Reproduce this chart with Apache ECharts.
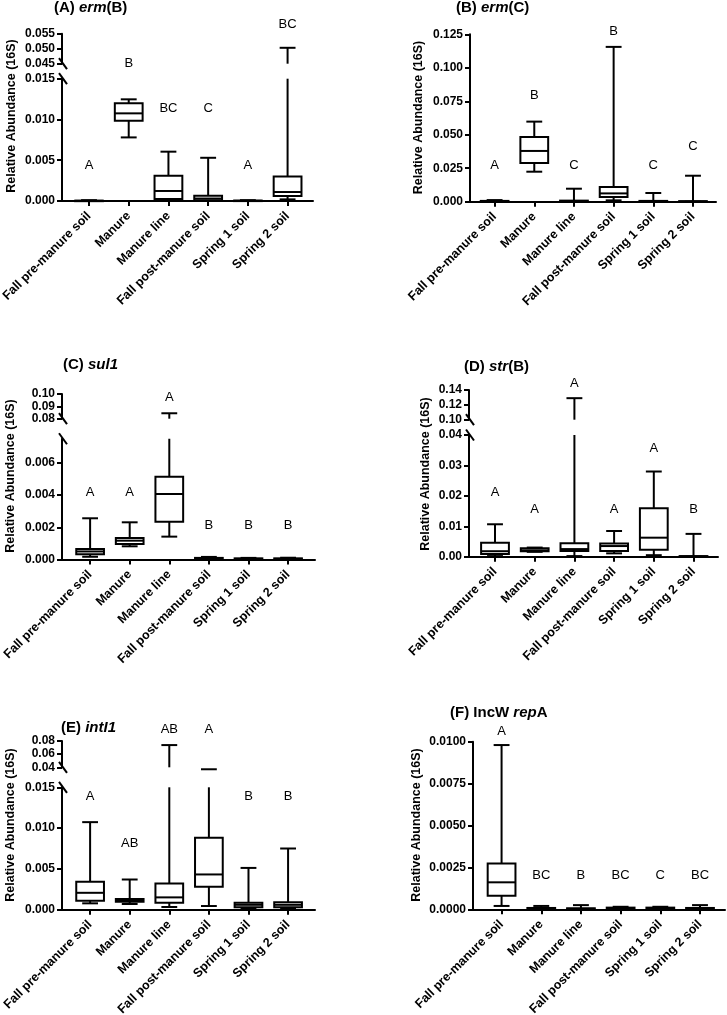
<!DOCTYPE html>
<html><head><meta charset="utf-8">
<script src="https://cdn.jsdelivr.net/npm/echarts@6/dist/echarts.min.js"></script>
<style>html,body{margin:0;padding:0;background:#fff}#chart{width:727px;height:1015px}</style>
</head><body><div id="chart"></div>
<script>
// ---------------- DATA ----------------
const categories = ['Fall pre-manure soil', 'Manure', 'Manure line', 'Fall post-manure soil', 'Spring 1 soil', 'Spring 2 soil'];

// each box: [min, Q1, median, Q3, max]
// (A) erm(B)
const ermB = [
  [0, 0.00001, 0.00002, 0.00004, 0.0001],
  [0.0078, 0.00985, 0.01075, 0.0120, 0.01247],
  [0.00005, 0.00025, 0.00123, 0.0031, 0.00605],
  [0.00001, 0.0001, 0.0003, 0.00065, 0.0053],
  [0, 0.00001, 0.00002, 0.00005, 0.0001],
  [0.0002, 0.0006, 0.0011, 0.0030, 0.0503]
];
const ermBLetters = ['A', 'B', 'BC', 'C', 'A', 'BC'];
const ermBLetterY = [0.0044, 0.0169, 0.0114, 0.0114, 0.0044, 0.0217];
const ermBTicksLow = [0, 0.005, 0.010, 0.015];
const ermBTicksHigh = [0.045, 0.050, 0.055];

// (B) erm(C)
const ermC = [
  [0, 0.0001, 0.0003, 0.0006, 0.0012],
  [0.0224, 0.0289, 0.0379, 0.0483, 0.0598],
  [0, 0.0001, 0.0003, 0.0008, 0.0097],
  [0.001, 0.0035, 0.0062, 0.011, 0.1156],
  [0, 0.0001, 0.0002, 0.0006, 0.0065],
  [0, 0.00005, 0.0001, 0.0004, 0.0194]
];
const ermCLetters = ['A', 'B', 'C', 'B', 'C', 'C'];
const ermCLetterY = [0.027, 0.079, 0.027, 0.1275, 0.027, 0.041];
const ermCTicks = [0, 0.025, 0.050, 0.075, 0.100, 0.125];

// (C) sul1
const sul1 = [
  [0.00017, 0.00032, 0.0005, 0.00065, 0.00256],
  [0.00082, 0.00096, 0.00117, 0.00134, 0.00231],
  [0.00142, 0.00235, 0.00407, 0.00514, 0.0844],
  [0.00001, 0.00003, 0.00006, 0.0001, 0.00016],
  [0, 0.00002, 0.00004, 0.00007, 0.0001],
  [0, 0.00002, 0.00004, 0.00007, 0.00011]
];
const sul1Letters = ['A', 'A', 'A', 'B', 'B', 'B'];
const sul1LetterY = [0.00415, 0.00415, 0.01005, 0.00214, 0.00214, 0.00214];
const sul1TicksLow = [0, 0.002, 0.004, 0.006];
const sul1TicksHigh = [0.08, 0.09, 0.10];

// (D) str(B)
const strB = [
  [0.0002, 0.0009, 0.0018, 0.0046, 0.01066],
  [0.0016, 0.0018, 0.0021, 0.0028, 0.0030],
  [0.0002, 0.0019, 0.0025, 0.0044, 0.129],
  [0.0011, 0.0019, 0.0035, 0.0043, 0.00845],
  [0.0005, 0.0023, 0.00625, 0.0159, 0.028],
  [0, 0, 0.00005, 0.0002, 0.0075]
];
const strBLetters = ['A', 'A', 'A', 'A', 'A', 'B'];
const strBLetterY = [0.0210, 0.0154, 0.0570, 0.0154, 0.0357, 0.0154];
const strBTicksLow = [0, 0.01, 0.02, 0.03, 0.04];
const strBTicksHigh = [0.10, 0.12, 0.14];

// (E) intI1
const intI1 = [
  [0.00078, 0.0011, 0.00207, 0.00341, 0.01073],
  [0.0007, 0.00098, 0.0011, 0.0013, 0.0037],
  [0.00033, 0.00085, 0.00151, 0.0032, 0.0738],
  [0.00045, 0.0028, 0.00432, 0.00883, 0.037],
  [0.0001, 0.0003, 0.0006, 0.00085, 0.00512],
  [0.0001, 0.0003, 0.0006, 0.0009, 0.0075]
];
const intI1Letters = ['A', 'AB', 'AB', 'A', 'B', 'B'];
const intI1LetterY = [0.01385, 0.00814, 0.0221, 0.0221, 0.01385, 0.01385];
const intI1TicksLow = [0, 0.005, 0.010, 0.015];
const intI1TicksHigh = [0.04, 0.06, 0.08];

// (F) IncW repA
const repA = [
  [0.0002, 0.00081, 0.00161, 0.00274, 0.0098],
  [0, 0.00002, 0.00004, 0.00008, 0.0002],
  [0, 0.00001, 0.00003, 0.00006, 0.00025],
  [0, 0.00002, 0.00005, 0.0001, 0.00015],
  [0, 0.00003, 0.00006, 0.0001, 0.00015],
  [0, 0.00002, 0.00004, 0.00008, 0.00025]
];
const repALetters = ['A', 'BC', 'B', 'BC', 'C', 'BC'];
const repALetterY = [0.0106, 0.00205, 0.00205, 0.00205, 0.00205, 0.00205];
const repATicks = [0, 0.0025, 0.0050, 0.0075, 0.0100];

const yTitle = 'Relative Abundance (16S)';

// ---------------- LAYOUT ----------------
const FONT = '"Liberation Sans", Arial, Helvetica, sans-serif';
const panels = [
  { title: '(A) {i|erm}(B)', titlePos: [54, 0], yName: [12, 116], boxes: ermB, letters: ermBLetters, letterY: ermBLetterY,
    left: 62, width: 251, xMin: -0.68, xMax: 5.64,
    low: { top: 78.7, height: 122.3, min: 0, max: 0.015, ticks: ermBTicksLow, dec: 3 },
    high: { top: 33.7, height: 30, min: 0.045, max: 0.055, ticks: ermBTicksHigh, dec: 3 } },
  { title: '(B) {i|erm}(C)', titlePos: [456, 0], yName: [419, 117.5], boxes: ermC, letters: ermCLetters, letterY: ermCLetterY,
    left: 470, width: 246, xMin: -0.62, xMax: 5.58,
    low: { top: 34.3, height: 167.4, min: 0, max: 0.125, ticks: ermCTicks, dec: 3 }, high: null },
  { title: '(C) {i|sul1}', titlePos: [63, 357], yName: [11, 476], boxes: sul1, letters: sul1Letters, letterY: sul1LetterY,
    left: 62, width: 253, xMin: -0.71, xMax: 5.68,
    low: { top: 438.75, height: 120.75, min: 0, max: 0.0075, ticks: sul1TicksLow, dec: 3 },
    high: { top: 394, height: 24.7, min: 0.08, max: 0.10, ticks: sul1TicksHigh, dec: 2 } },
  { title: '(D) {i|str}(B)', titlePos: [464, 359], yName: [426, 474], boxes: strB, letters: strBLetters, letterY: strBLetterY,
    left: 469, width: 249, xMin: -0.655, xMax: 5.617,
    low: { top: 435, height: 121.7, min: 0, max: 0.04, ticks: strBTicksLow, dec: 2 },
    high: { top: 390, height: 29.7, min: 0.10, max: 0.14, ticks: strBTicksHigh, dec: 2 } },
  { title: '(E) {i|intI1}', titlePos: [61, 720], yName: [11, 825], boxes: intI1, letters: intI1Letters, letterY: intI1LetterY,
    left: 62, width: 253, xMin: -0.71, xMax: 5.68,
    low: { top: 787.3, height: 122.4, min: 0, max: 0.015, ticks: intI1TicksLow, dec: 3 },
    high: { top: 741, height: 26.3, min: 0.04, max: 0.08, ticks: intI1TicksHigh, dec: 2 } },
  { title: '(F) IncW {i|rep}A', titlePos: [450, 705], yName: [417, 825], boxes: repA, letters: repALetters, letterY: repALetterY,
    left: 473, width: 252, xMin: -0.72, xMax: 5.63,
    low: { top: 741.7, height: 167.6, min: 0, max: 0.0100, ticks: repATicks, dec: 4 }, high: null }
];

const BLACK = '#000';
const catIdx = categories.map((c, i) => i);

function ln(x1, y1, x2, y2) {
  return { type: 'line', shape: { x1, y1, x2, y2 }, style: { stroke: BLACK, lineWidth: 2, fill: null } };
}

function boxRenderer(panel, part) {
  return function (params, api) {
    const x = api.value(0);
    const mn = api.value(1), q1 = api.value(2), md = api.value(3), q3 = api.value(4), mx = api.value(5);
    const unit = api.size([1, 0])[0];
    const bw = unit * 0.7, cw = unit * 0.4;
    const cx = api.coord([x, 0])[0];
    const ch = [];
    if (part === 'low') {
      const top = panel.low.max;
      const Y = v => api.coord([x, Math.min(v, top)])[1];
      ch.push(ln(cx, Y(q3), cx, Y(mx)));
      if (mx <= top) ch.push(ln(cx - cw / 2, Y(mx), cx + cw / 2, Y(mx)));
      ch.push(ln(cx, Y(q1), cx, Y(mn)));
      ch.push(ln(cx - cw / 2, Y(mn), cx + cw / 2, Y(mn)));
      ch.push({ type: 'rect', shape: { x: cx - bw / 2, y: Y(q3), width: bw, height: Math.max(Y(q1) - Y(q3), 0.5) },
        style: { fill: '#fff', stroke: BLACK, lineWidth: 2 } });
      ch.push(ln(cx - bw / 2, Y(md), cx + bw / 2, Y(md)));
    } else if (mx > panel.low.max) {
      const ym = api.coord([x, mx])[1];
      if (mx > panel.high.min) ch.push(ln(cx, ym, cx, api.coord([x, panel.high.min])[1]));
      ch.push(ln(cx - cw / 2, ym, cx + cw / 2, ym));
    }
    return { type: 'group', children: ch };
  };
}

function breakRenderer(params, api) {
  const p = api.coord([api.value(0), api.value(1)]);
  return ln(p[0] - 3, p[1] - 5.5, p[0] + 5, p[1] + 5.5);
}

function letterRenderer(panel) {
  return function (params, api) {
    const p = api.coord([api.value(0), api.value(1)]);
    return { type: 'text', x: p[0], y: p[1],
      style: { text: panel.letters[params.dataIndex], fill: BLACK, fontSize: 13, fontFamily: FONT,
        align: 'center', verticalAlign: 'middle', textAlign: 'center', textVerticalAlign: 'middle' } };
  };
}

const grid = [], xAxis = [], yAxis = [], series = [], title = [], graphic = [];

function yAxisDef(gi, seg) {
  return {
    type: 'value', gridIndex: gi, min: seg.min, max: seg.max,
    axisLine: { show: true, onZero: false, lineStyle: { color: BLACK, width: 2 } },
    axisTick: { show: true, length: 5, customValues: seg.ticks, lineStyle: { color: BLACK, width: 2 } },
    axisLabel: { customValues: seg.ticks, formatter: v => Number(v).toFixed(seg.dec), color: BLACK,
      fontSize: 12, fontWeight: 'bold', fontFamily: FONT, margin: 7 },
    splitLine: { show: false }
  };
}

panels.forEach(p => {
  // lower segment
  const gi = grid.length;
  grid.push({ left: p.left, top: p.low.top, width: p.width, height: p.low.height, containLabel: false, outerBoundsMode: 'none' });
  xAxis.push({
    type: 'value', gridIndex: gi, min: p.xMin, max: p.xMax,
    axisLine: { show: true, onZero: false, lineStyle: { color: BLACK, width: 2 } },
    axisTick: { show: true, length: 5, customValues: catIdx, lineStyle: { color: BLACK, width: 2 } },
    axisLabel: { customValues: catIdx, formatter: v => categories[Math.round(v)], rotate: 45, color: BLACK,
      fontSize: 12.5, fontWeight: 'bold', fontFamily: FONT, margin: 13 },
    splitLine: { show: false }
  });
  yAxis.push(yAxisDef(gi, p.low));
  const boxData = p.boxes.map((b, i) => [i].concat(b));
  series.push({ type: 'custom', xAxisIndex: gi, yAxisIndex: gi, renderItem: boxRenderer(p, 'low'), data: boxData, silent: true, z: 3 });
  series.push({ type: 'custom', xAxisIndex: gi, yAxisIndex: gi, renderItem: letterRenderer(p),
    data: p.letterY.map((y, i) => [i, y]), silent: true, z: 4 });
  if (p.high) {
    series.push({ type: 'custom', xAxisIndex: gi, yAxisIndex: gi, renderItem: breakRenderer,
      data: [[p.xMin, p.low.max]], silent: true, z: 5 });
    const gh = grid.length;
    grid.push({ left: p.left, top: p.high.top, width: p.width, height: p.high.height, containLabel: false, outerBoundsMode: 'none' });
    xAxis.push({ type: 'value', gridIndex: gh, min: p.xMin, max: p.xMax, show: false, splitLine: { show: false } });
    yAxis.push(yAxisDef(gh, p.high));
    series.push({ type: 'custom', xAxisIndex: gh, yAxisIndex: gh, renderItem: boxRenderer(p, 'high'), data: boxData, silent: true, z: 3 });
    series.push({ type: 'custom', xAxisIndex: gh, yAxisIndex: gh, renderItem: breakRenderer,
      data: [[p.xMin, p.high.min]], silent: true, z: 5 });
  }
  title.push({
    text: p.title, left: p.titlePos[0], top: p.titlePos[1], padding: 0,
    textStyle: { fontSize: 15, fontWeight: 'bold', fontFamily: FONT, color: BLACK,
      rich: { i: { fontSize: 15, fontWeight: 'bold', fontStyle: 'italic', fontFamily: FONT, color: BLACK } } }
  });
  graphic.push({
    type: 'text', x: p.yName[0], y: p.yName[1], rotation: Math.PI / 2,
    style: { text: yTitle, fill: BLACK, fontSize: 12.5, fontWeight: 'bold', fontFamily: FONT,
      align: 'center', verticalAlign: 'middle', textAlign: 'center', textVerticalAlign: 'middle' }
  });
});

const chart = echarts.init(document.getElementById('chart'), null, { renderer: 'canvas' });
chart.setOption({ animation: false, backgroundColor: '#fff', title, grid, xAxis, yAxis, series, graphic });
</script>
</body></html>
